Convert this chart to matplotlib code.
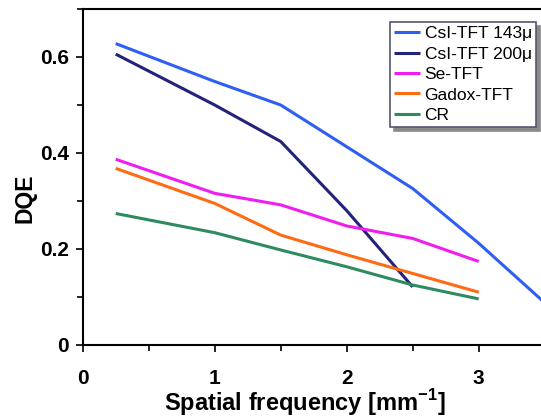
import matplotlib
matplotlib.use("Agg")
import matplotlib.pyplot as plt
from matplotlib.ticker import MultipleLocator

plt.rcParams["font.family"] = ["Liberation Sans", "DejaVu Sans"]
plt.rcParams["mathtext.fontset"] = "custom"
plt.rcParams["mathtext.rm"] = "Liberation Sans"
plt.rcParams["mathtext.bf"] = "Liberation Sans:bold"

# DQE curves
x_csi143 = [0.25, 1.0, 1.5, 2.0, 2.5, 3.0, 3.5]
y_csi143 = [0.628, 0.549, 0.500, 0.413, 0.326, 0.212, 0.088]

x_csi200 = [0.25, 1.0, 1.25, 1.5, 2.0, 2.5]
y_csi200 = [0.606, 0.500, 0.462, 0.424, 0.280, 0.121]

x_se = [0.25, 1.0, 1.5, 2.0, 2.5, 3.0]
y_se = [0.387, 0.316, 0.292, 0.248, 0.222, 0.174]

x_gadox = [0.25, 1.0, 1.5, 2.0, 2.5, 3.0]
y_gadox = [0.368, 0.295, 0.229, 0.188, 0.149, 0.110]

x_cr = [0.25, 1.0, 1.5, 2.0, 2.5, 3.0]
y_cr = [0.274, 0.234, 0.198, 0.163, 0.125, 0.096]

series = [
    ("CsI-TFT 143\u03bc", x_csi143, y_csi143, "#2f5ff2"),
    ("CsI-TFT 200\u03bc", x_csi200, y_csi200, "#24237a"),
    ("Se-TFT", x_se, y_se, "#f01cf0"),
    ("Gadox-TFT", x_gadox, y_gadox, "#ff6a13"),
    ("CR", x_cr, y_cr, "#2e8b5e"),
]

fig = plt.figure(figsize=(5.41, 4.17), dpi=100)
ax = fig.add_axes([82.7 / 541, 1 - 345 / 417, 462 / 541, 336 / 417])

for label, xs, ys, c in series:
    ax.plot(xs, ys, color=c, lw=2.2, label=label, solid_capstyle="butt")

ax.set_xlim(0, 3.5)
ax.set_ylim(0, 0.7)
ax.xaxis.set_minor_locator(MultipleLocator(0.5))
ax.yaxis.set_minor_locator(MultipleLocator(0.1))
ax.set_yticks([0, 0.2, 0.4, 0.6])
ax.set_yticklabels(["0", "0.2", "0.4", "0.6"])
ax.set_xticks([0, 1, 2, 3])
ax.set_xticklabels(["0", "1", "2", "3"])
ax.tick_params(which="major", direction="out", length=5, width=1.2,
               labelsize=15, pad=5)
ax.tick_params(axis="x", which="major", pad=12)
ax.tick_params(which="minor", direction="out", length=4, width=1.2)
for t in ax.get_xticklabels() + ax.get_yticklabels():
    t.set_fontweight("bold")

for s in ["left", "bottom", "top"]:
    ax.spines[s].set_linewidth(1.5)
ax.spines["right"].set_visible(False)

ax.set_xlabel("Spatial frequency [mm$^{\\mathbf{-1}}$]", fontsize=17,
              fontweight="bold")
ax.set_ylabel("DQE", fontsize=16.5, fontweight="bold")
ax.xaxis.set_label_coords((305 - 82.7) / 462, (345 - 403) / 336)
ax.yaxis.set_label_coords((25.5 - 82.7) / 462, (345 - 198) / 336)
ax.xaxis.label.set_va("center")
ax.yaxis.label.set_va("center")

leg = ax.legend(loc="upper right", bbox_to_anchor=(536 / 541, 1 - 22 / 417),
                bbox_transform=fig.transFigure, borderaxespad=0,
                fontsize=12.5, handlelength=1.5, handletextpad=0.25,
                labelspacing=0.3, borderpad=0.25, fancybox=False,
                shadow={"color": "#8a8a8a", "alpha": 1.0, "ox": 3, "oy": -3},
                framealpha=1)
leg.get_frame().set_edgecolor("#555570")
leg.get_frame().set_linewidth(1.2)

fig.savefig("out.png", dpi=100)
